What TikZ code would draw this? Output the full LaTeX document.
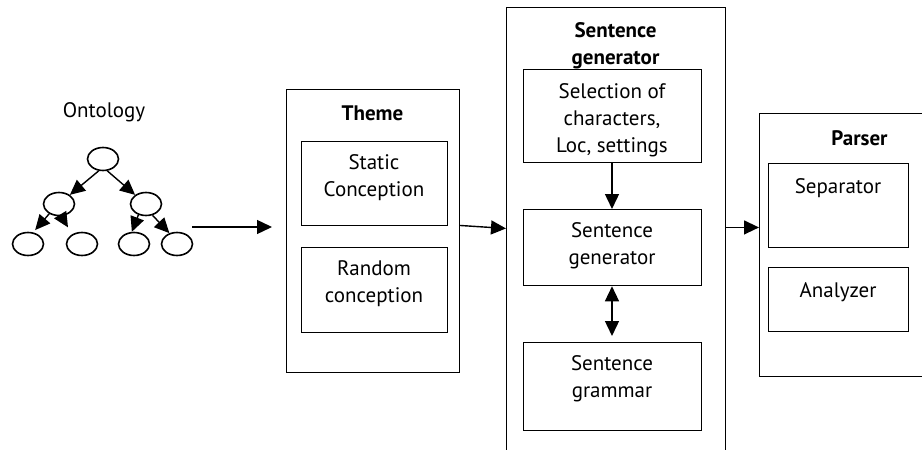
\documentclass[tikz,border=0pt]{standalone}
\usepackage{fontspec}
\setmainfont{PT Sans}
\usetikzlibrary{positioning, calc, arrows.meta, shapes.geometric}
\newcommand{\BoxF}{\fontsize{21}{27}\selectfont}
\tikzset{
  frame/.style={draw, line width=0.9pt, inner sep=0pt, anchor=north west},
  cell/.style={draw, line width=1.3pt, inner sep=0pt, anchor=north west},
  boxtext/.style={font=\BoxF, align=center, inner sep=0pt},
  boxtitle/.style={font=\BoxF\bfseries, align=center, inner sep=0pt},
  concept/.style={draw, ellipse, line width=1.6pt, minimum width=31pt, minimum height=23pt, inner sep=0pt},
  arr/.style={line width=1.4pt, -{Triangle[length=15pt, width=14pt]}},
  dblarr/.style={line width=1.4pt, {Triangle[length=15pt, width=14pt]}-{Triangle[length=15pt, width=14pt]}}
}
\newcommand{\frameblock}[7]{%
  \node[frame, minimum width={#4-#2}, minimum height={#5-#3}] (#1) at (#2,#3) {};
  \node[boxtitle] (#1-t) at ({(#2+#4)/2},#6) {#7};
}
\newcommand{\cellbox}[7]{%
  \node[cell, minimum width={#4-#2}, minimum height={#5-#3}] (#1) at (#2,#3) {};
  \node[boxtext] (#1-t) at ({(#2+#4)/2},#6) {#7};
}

\begin{document}
\begin{tikzpicture}[x=1pt,y=-1pt]
\useasboundingbox (0,0) rectangle (922,450);
\clip (0,0) rectangle (922,450);

% ontology tree
\node[boxtext] (onto) at (104,112) {Ontology};
\node[concept] (root) at (103,159) {};
\node[concept] (l) at (59,204) {};
\node[concept] (r) at (146,204) {};
\node[concept] (ll) at (28,244) {};
\node[concept] (lr) at (82,244) {};
\node[concept] (rl) at (134,244) {};
\node[concept] (rr) at (177,244) {};
\draw[arr] (root.250) -- (l.40);
\draw[arr] (root.290) -- (r.140);
\draw[arr, shorten >=3pt] (l.225) -- (ll.66);
\draw[arr, shorten >=8pt] (l.280) -- (lr.135);
\draw[arr] (r.235) -- (rl.100);
\draw[arr] (r.300) -- (rr.125);
\coordinate (ontout) at (192,227);

% theme
\frameblock{theme}{286}{89}{459}{372}{113}{Theme}
\cellbox{static}{301}{141}{447}{225}{178}{Static\\Conception}
\cellbox{random}{301}{247}{447}{332}{284}{Random\\conception}

% sentence generator
\frameblock{sg}{506}{7}{725}{470}{46}{Sentence\\generator}
\cellbox{select}{523}{69}{701}{162}{120}{Selection of\\characters,\\Loc, settings}
\cellbox{gen}{523}{209}{701}{285}{246}{Sentence\\generator}
\cellbox{gram}{523}{342}{701}{430}{379}{Sentence\\grammar}

% parser
\frameblock{parser}{759}{113}{960}{376}{138}{Parser}
\cellbox{sep}{768}{163}{908}{247}{188}{Separator}
\cellbox{ana}{768}{267}{908}{331}{292}{Analyzer}

% connectors
\draw[arr, shorten >=14pt] (ontout) -- (ontout -| theme.west);
\draw[arr] ([yshift=5.5pt]theme.east) -- ([yshift=10.5pt]sg.west);
\draw[arr] (select.south -| 612,0) -- (gen.north -| 612,0);
\draw[dblarr, shorten >=6pt] (gen.south -| 612,0) -- (gram.north -| 612,0);
\draw[arr] ([yshift=11.5pt]sg.east) -- ([yshift=11.5pt]sg.east -| parser.west);
\end{tikzpicture}
\end{document}
